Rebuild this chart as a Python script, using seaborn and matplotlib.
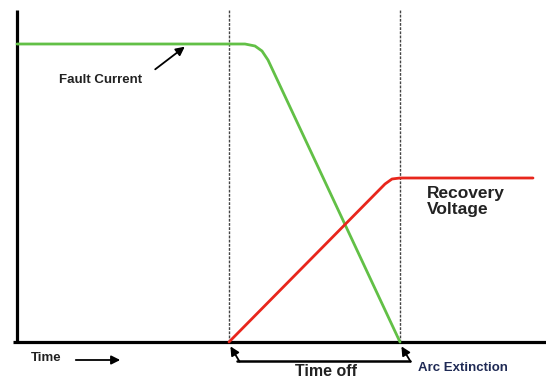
import matplotlib
matplotlib.use("Agg")
import matplotlib.pyplot as plt
import seaborn as sns
import pandas as pd

# ---- data (time units, amplitude units) ----
current_t = [0, 228, 238, 245, 251, 383]
current_y = [298, 298, 296, 291, 282, 0]
voltage_t = [212, 368, 375, 383, 516]
voltage_y = [0, 158, 163, 164, 164]
event_t = [212, 383]          # current zero / arc extinction instants
labels = {"current": "Fault Current", "voltage": "Recovery\nVoltage",
          "time": "Time", "toff": "Time off", "arc": "Arc Extinction"}

sns.set_theme(style="white")
plt.rcParams['font.family'] = ['Liberation Sans', 'DejaVu Sans']

fig = plt.figure(figsize=(5.46, 3.80), dpi=100)
ax = fig.add_axes([0, 0, 1, 1])
ax.set_xlim(-17, 529)
ax.set_ylim(-38, 342)
ax.axis("off")

df_c = pd.DataFrame({"t": current_t, "y": current_y})
df_v = pd.DataFrame({"t": voltage_t, "y": voltage_y})
sns.lineplot(data=df_c, x="t", y="y", ax=ax, color="#62c046", lw=2.0, sort=False)
sns.lineplot(data=df_v, x="t", y="y", ax=ax, color="#e8261c", lw=2.0, sort=False)

# axes lines
ax.plot([0, 0], [0, 332], color="black", lw=2.3, solid_capstyle="butt", zorder=1)
ax.plot([-4, 529], [0, 0], color="black", lw=2.3, solid_capstyle="butt", zorder=1)

# dashed event lines
for t in event_t:
    ax.plot([t, t], [0, 332], color="#444444", lw=1.0, ls=(0, (2, 1)), zorder=0)

bold = dict(fontweight="bold", color="#222222")
# Fault current label + arrow
ax.text(84, 262, labels["current"], fontsize=9.5, ha="center", va="center", **bold)
ax.annotate("", xy=(170, 297), xytext=(136, 271),
            arrowprops=dict(arrowstyle="-|>", color="black", lw=1.3, mutation_scale=13))

# Recovery voltage label
ax.text(410, 156, labels["voltage"], fontsize=12.5, ha="left", va="top", linespacing=1.05, **bold)

# Time arrow
ax.text(14, -16, labels["time"], fontsize=9.5, ha="left", va="center", **bold)
ax.annotate("", xy=(106, -18), xytext=(56, -18),
            arrowprops=dict(arrowstyle="-|>", color="black", lw=1.3, mutation_scale=13))

# Time off bracket
for t in event_t:
    ax.annotate("", xy=(t, -2), xytext=(t + 12, -22),
                arrowprops=dict(arrowstyle="-|>", color="black", lw=1.3, mutation_scale=13))
ax.plot([event_t[0] + 8, event_t[1] + 10], [-19, -19], color="black", lw=1.8)
ax.text(309, -34.5, labels["toff"], fontsize=11.5, ha="center", va="baseline", **bold)
ax.text(401, -26, labels["arc"], fontsize=9.5, ha="left", va="center",
        fontweight="bold", color="#1f2a55")

fig.savefig("out.png", dpi=100)
